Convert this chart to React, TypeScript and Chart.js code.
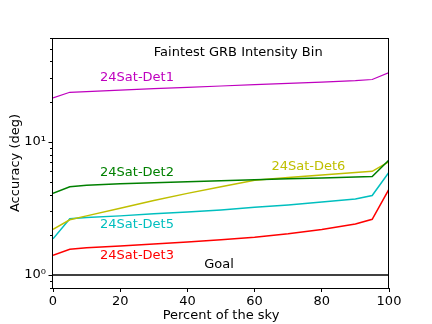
import React, { useEffect, useRef } from "react";
import { Chart, registerables } from "chart.js";

Chart.register(...registerables);

const percentSky = [0, 5, 10, 20, 30, 40, 50, 60, 70, 80, 90, 95, 100];
const det1 = [21.3, 23.5, 23.8, 24.4, 25.0, 25.6, 26.2, 26.8, 27.4, 28.0, 28.7, 29.3, 33.0];
const det2 = [4.1, 4.6, 4.72, 4.84, 4.93, 5.02, 5.1, 5.18, 5.27, 5.35, 5.43, 5.48, 7.3];
const det6 = [2.2, 2.6, 2.78, 3.17, 3.63, 4.1, 4.59, 5.15, 5.39, 5.63, 5.87, 6.0, 7.1];
const det5 = [1.87, 2.65, 2.7, 2.78, 2.88, 2.97, 3.08, 3.22, 3.36, 3.53, 3.72, 3.95, 5.9];
const det3 = [1.41, 1.56, 1.6, 1.65, 1.71, 1.77, 1.84, 1.92, 2.04, 2.2, 2.42, 2.62, 4.41];
const goalX = [0, 100];
const goalY = [1, 1];

const seriesNames = ["24Sat-Det1", "24Sat-Det2", "24Sat-Det6", "24Sat-Det5", "24Sat-Det3", "Goal"];
const seriesColors = ["#bf00bf", "#008000", "#bfbf00", "#00bfbf", "#ff0000", "#000000"];

const xTicks = [0, 20, 40, 60, 80, 100];
const yTicks = [0.8, 0.9, 1, 2, 3, 4, 5, 6, 7, 8, 9, 10, 20, 30, 40, 50, 60];
const yMajorLabels: Record<number, string> = { 1: "10\u2070", 10: "10\u00b9" };

// text annotations: [text, x, y, color]
const annoText = ["Faintest GRB Intensity Bin", "24Sat-Det1", "24Sat-Det2", "24Sat-Det6", "24Sat-Det5", "24Sat-Det3", "Goal"];
const annoX = [30, 14, 14, 65, 14, 14, 45];
const annoY = [46.9, 30.1, 5.82, 6.52, 2.38, 1.39, 1.19];
const annoColor = ["#000000", "#bf00bf", "#008000", "#bfbf00", "#00bfbf", "#ff0000", "#000000"];

const FONT = "'DejaVu Sans', sans-serif";

export default function App() {
  const ref = useRef<HTMLCanvasElement | null>(null);
  useEffect(() => {
    if (!ref.current) return;
    const allSeries = [det1, det2, det6, det5, det3];
    const datasets: any[] = allSeries.map((s, i) => ({
      label: seriesNames[i],
      data: percentSky.map((x, j) => ({ x, y: s[j] })),
      borderColor: seriesColors[i],
      borderWidth: i === 0 ? 1.2 : 1.5,
      pointRadius: 0,
      fill: false,
      tension: 0,
    }));
    datasets.push({
      label: "Goal",
      data: goalX.map((x, j) => ({ x, y: goalY[j] })),
      borderColor: "#000000",
      borderWidth: 1.5,
      pointRadius: 0,
      fill: false,
    });

    const overlay = {
      id: "overlay",
      afterDatasetsDraw(chart: any) {
        const ctx = chart.ctx;
        const { left, right, top, bottom } = chart.chartArea;
        const xs = chart.scales.x;
        const ys = chart.scales.y;
        ctx.save();
        // frame
        ctx.strokeStyle = "#000";
        ctx.lineWidth = 1;
        ctx.strokeRect(Math.round(left) - 0.5, Math.round(top) + 0.5, Math.round(right - left), Math.round(bottom - top));
        // y ticks
        yTicks.forEach((v) => {
          const py = Math.round(ys.getPixelForValue(v)) + 0.5;
          const len = yMajorLabels[v] ? 4 : 2.5;
          ctx.beginPath();
          ctx.moveTo(left - 0.5, py);
          ctx.lineTo(left - 0.5 - len, py);
          ctx.stroke();
        });
        // annotations
        ctx.font = `13px ${FONT}`;
        ctx.textAlign = "left";
        ctx.textBaseline = "middle";
        annoText.forEach((t, i) => {
          ctx.fillStyle = annoColor[i];
          ctx.fillText(t, xs.getPixelForValue(annoX[i]), ys.getPixelForValue(annoY[i]));
        });
        ctx.restore();
      },
    };

    const chart = new Chart(ref.current, {
      type: "line",
      data: { datasets },
      plugins: [overlay],
      options: {
        animation: false,
        responsive: true,
        maintainAspectRatio: false,
        layout: { padding: { top: 38, right: 43, left: 0, bottom: 0 } },
        plugins: { legend: { display: false }, tooltip: { enabled: false } },
        scales: {
          x: {
            type: "linear",
            min: 0,
            max: 100,
            afterBuildTicks: (scale: any) => {
              scale.ticks = xTicks.map((v) => ({ value: v }));
            },
            afterFit: (scale: any) => {
              scale.height = 36;
            },
            grid: { drawOnChartArea: false, drawTicks: true, tickLength: 4, tickColor: "#000", lineWidth: 1 },
            border: { display: false },
            ticks: { color: "#000", font: { family: FONT, size: 13 }, padding: 2, maxRotation: 0, autoSkip: false },
            title: { display: true, text: "Percent of the sky", color: "#000", font: { family: FONT, size: 13 }, padding: { top: 0, bottom: 1 } },
          },
          y: {
            type: "logarithmic",
            min: 0.8,
            max: 60,
            afterBuildTicks: (scale: any) => {
              scale.ticks = yTicks.map((v) => ({ value: v }));
            },
            afterFit: (scale: any) => {
              scale.width = 53;
            },
            grid: { drawOnChartArea: false, drawTicks: false },
            border: { display: false },
            ticks: {
              color: "#000",
              font: { family: FONT, size: 13 },
              padding: 7,
              autoSkip: false,
              callback: (v: any) => yMajorLabels[Number(v)] || "",
            },
            title: { display: true, text: "Accuracy (deg)", color: "#000", font: { family: FONT, size: 13 }, padding: { top: 8, bottom: 0 } },
          },
        },
      } as any,
    });
    return () => chart.destroy();
  }, []);
  return (
    <div style={{ position: "fixed", left: 0, top: 0, width: 432, height: 324, background: "#fff" }}>
      <canvas ref={ref} />
    </div>
  );
}
